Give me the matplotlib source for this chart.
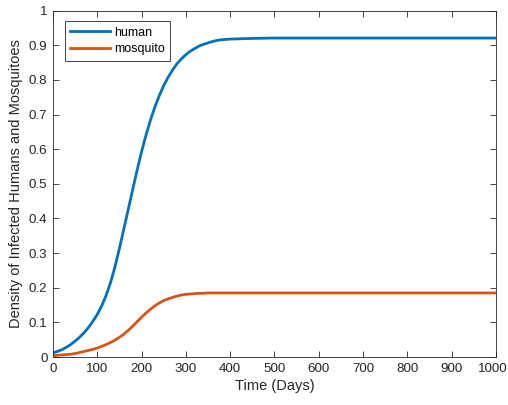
import matplotlib
matplotlib.use("Agg")
import matplotlib.pyplot as plt
import matplotlib.transforms as mtransforms
from matplotlib.ticker import FuncFormatter

days = [0, 10, 20, 30, 40, 50, 60, 70, 80, 90,
        100, 110, 120, 130, 140, 150, 160, 170, 180, 190,
        200, 210, 220, 230, 240, 250, 260, 270, 280, 290,
        300, 310, 320, 330, 340, 350, 360, 370, 380, 390,
        400, 450, 500, 600, 700, 800, 900, 1000]

human = [0.012, 0.016, 0.021, 0.028, 0.036, 0.046, 0.057, 0.070, 0.085, 0.103,
         0.123, 0.148, 0.178, 0.215, 0.261, 0.314, 0.370, 0.427, 0.484, 0.540,
         0.593, 0.641, 0.684, 0.722, 0.755, 0.784, 0.808, 0.829, 0.847, 0.861,
         0.873, 0.883, 0.891, 0.898, 0.903, 0.907, 0.911, 0.914, 0.916, 0.917,
         0.918, 0.920, 0.921, 0.921, 0.921, 0.921, 0.921, 0.921]

mosquito = [0.004, 0.005, 0.006, 0.007, 0.008, 0.010, 0.013, 0.016, 0.019, 0.022,
            0.026, 0.031, 0.036, 0.042, 0.049, 0.057, 0.066, 0.077, 0.089, 0.102,
            0.115, 0.127, 0.138, 0.148, 0.156, 0.163, 0.168, 0.172, 0.176, 0.179,
            0.181, 0.182, 0.183, 0.184, 0.184, 0.185, 0.185, 0.185, 0.185, 0.185,
            0.185, 0.185, 0.185, 0.185, 0.185, 0.185, 0.185, 0.185]

series_names = ["human", "mosquito"]
x_ticks = [0, 100, 200, 300, 400, 500, 600, 700, 800, 900, 1000]
y_ticks = [0, 0.1, 0.2, 0.3, 0.4, 0.5, 0.6, 0.7, 0.8, 0.9, 1]

plt.rcParams['font.family'] = ['Liberation Sans', 'DejaVu Sans']

fig = plt.figure(figsize=(5.08, 4.05), dpi=100)
ax = fig.add_axes([0.1043, 0.1185, 0.8721, 0.8551])

ax.plot(days, human, color='#0072BD', lw=2.0, label=series_names[0])
ax.plot(days, mosquito, color='#D95319', lw=2.0, label=series_names[1])

ax.set_xlim(0, 1000)
ax.set_ylim(0, 1)
ax.set_xticks(x_ticks)
ax.set_yticks(y_ticks)
fmt = FuncFormatter(lambda v, p: f"{v:g}")
ax.xaxis.set_major_formatter(fmt)
ax.yaxis.set_major_formatter(fmt)

gray = '#262626'
for s in ax.spines.values():
    s.set_color(gray)
    s.set_linewidth(0.6)
ax.tick_params(direction='in', top=True, right=True, length=4, width=0.6,
               colors=gray, labelsize=9.6, labelcolor=gray, pad=4)

ax.set_xlabel("Time (Days)", fontsize=10.5, color=gray, labelpad=3)
ax.set_ylabel("Density of Infected Humans and Mosquitoes", fontsize=10.5, color=gray, labelpad=4)

leg = ax.legend(loc='upper left', bbox_to_anchor=(0.012, 0.988), fancybox=False,
                framealpha=1, edgecolor=gray, fontsize=9, handlelength=3.2,
                handletextpad=0.3, borderpad=0.45, labelspacing=0.35)
leg.get_frame().set_linewidth(0.6)

fig.canvas.draw()
last = ax.get_xticklabels()[-1]
last.set_transform(last.get_transform() +
                   mtransforms.ScaledTranslation(-3 / 100, 0, fig.dpi_scale_trans))

fig.savefig("out.png", dpi=100)
